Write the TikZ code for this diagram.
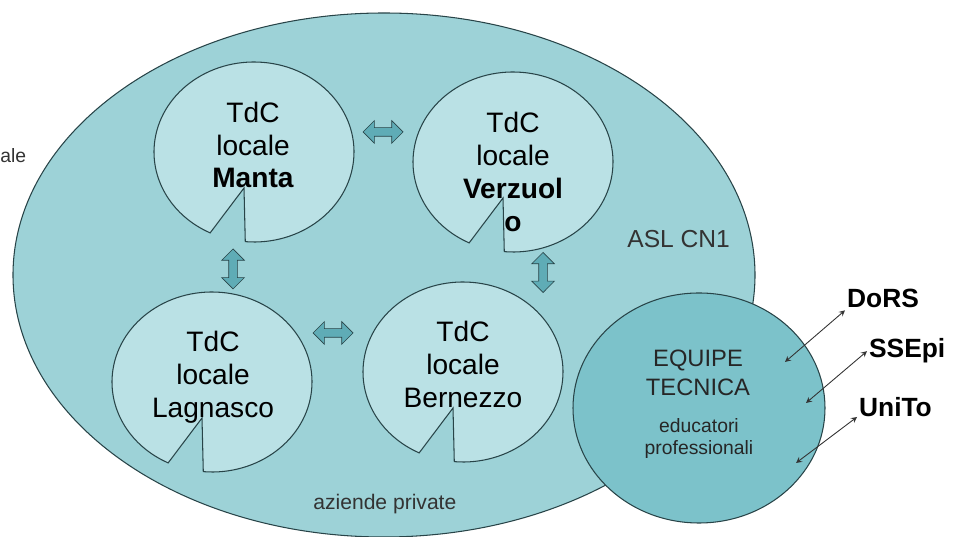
\documentclass[tikz,border=0pt]{standalone}
\usepackage{fontspec}
\setmainfont{Liberation Sans}
\usetikzlibrary{shapes.arrows}
\definecolor{aslfill}{RGB}{157,210,215}
\definecolor{tdcfill}{RGB}{186,225,229}
\definecolor{eqfill}{RGB}{124,194,202}
\definecolor{lineteal}{RGB}{40,68,72}
\definecolor{arrowfill}{RGB}{95,172,182}
\tikzset{
    piece/.style={draw=lineteal,fill=tdcfill,line width=0.6pt},
    linkarrow/.style={double arrow,draw=lineteal,fill=arrowfill,inner sep=0.08cm,
        minimum height=0.8cm,double arrow head extend=0.14cm}
}
% one TdC circle with its missing slice, #1,#2 = centre
\newcommand{\tdcpiece}[2]{%
    \draw[piece,shift={(#1,#2)}] (265:2 and 1.8)
        arc[start angle=265,end angle=604,x radius=2,y radius=1.8]
        -- (-0.2,-0.72) -- cycle;}
\begin{document}
\begin{tikzpicture}
        \useasboundingbox (0,0) rectangle (19.08,10.74);
        \draw[draw=lineteal,fill=aslfill,line width=0.6pt] (7.68,5.24) ellipse [x radius=7.42,y radius=5.24];
        \tdcpiece{5.08}{7.70}
        \tdcpiece{10.26}{7.50}
        \tdcpiece{4.24}{3.10}
        \tdcpiece{9.26}{3.30}
        \draw[draw=lineteal,fill=eqfill,line width=0.6pt] (13.98,2.58) ellipse [x radius=2.52,y radius=2.30];
        \begin{scope}[every node/.style={linkarrow}]
            \node (mv) at (7.66,8.10) {};
            \node (ml) [rotate=90] at (4.66,5.36) {};
            \node (vb) [rotate=90] at (10.86,5.29) {};
            \node (lb) at (6.66,4.08) {};
        \end{scope}
        \begin{scope}[every node/.style={align=center,font=\fontsize{16}{18.7}\selectfont}]
            \node (manta) at (5.06,7.84) {TdC\\locale\\\textbf{Manta}};
            \node (verzuolo) at (10.26,7.30) {TdC\\locale\\\textbf{Verzuol}\\\textbf{o}};
            \node (lagnasco) at (4.26,3.19) {TdC\\locale\\Lagnasco};
            \node (bernezzo) at (9.26,3.45) {TdC\\locale\\Bernezzo};
        \end{scope}
        \node (asl) [anchor=base west,inner sep=0pt,text=black!80,font=\fontsize{14}{16}\selectfont] at (12.54,5.78) {ASL CN1};
        \node (aziende) [anchor=base west,inner sep=0pt,text=black!80,font=\fontsize{12}{14}\selectfont] at (6.26,0.54) {aziende private};
        \node (ale) [anchor=base west,inner sep=0pt,text=black!80,font=\fontsize{11}{13}\selectfont] at (0,7.48) {ale};
        \node (equipe) [align=center,text=black!85,font=\fontsize{13.5}{16.4}\selectfont] at (13.96,3.28) {EQUIPE\\TECNICA};
        \node (educatori) [align=center,text=black!85,font=\fontsize{11}{13}\selectfont] at (13.98,1.97) {educatori\\professionali};
        \begin{scope}[every node/.style={anchor=base west,inner sep=1pt,font=\fontsize{15}{17}\selectfont\bfseries}]
            \node (dors) at (16.90,4.58) {DoRS};
            \node (ssepi) at (17.34,3.58) {SSEpi};
            \node (unito) at (17.14,2.40) {UniTo};
        \end{scope}
        \coordinate (eqdors) at (15.70,3.50);
        \coordinate (eqssepi) at (16.12,2.68);
        \coordinate (equnito) at (15.92,1.48);
        \begin{scope}[every edge/.style={draw,<->,>=stealth,line width=0.5pt,black!80}]
            \path
                (eqdors) edge (dors.south west)
                (eqssepi) edge (ssepi.west)
                (equnito) edge (unito.base west);
        \end{scope}
    \end{tikzpicture}
\end{document}
